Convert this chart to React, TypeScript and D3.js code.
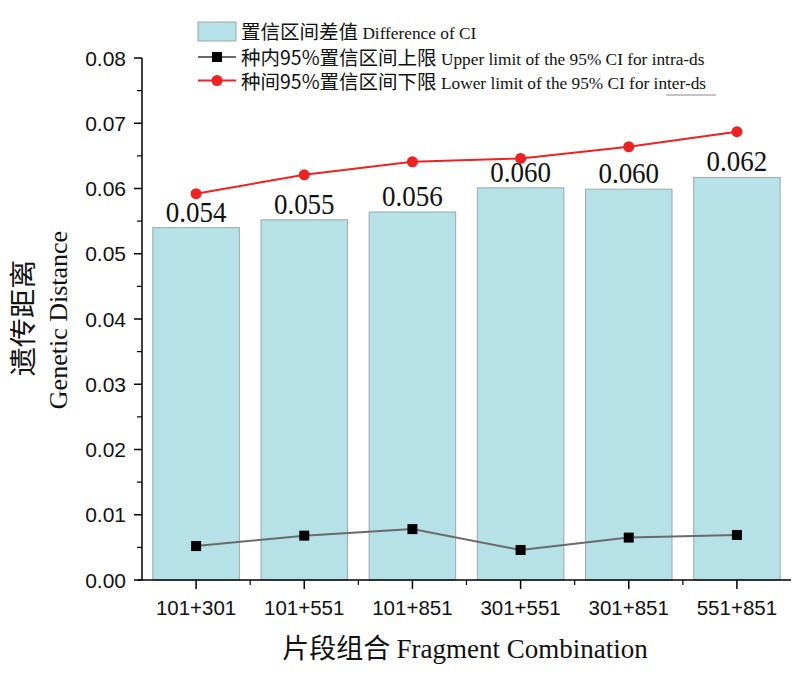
import React from "react";
import * as d3 from "d3";

const categories = ["101+301", "101+551", "101+851", "301+551", "301+851", "551+851"];
const ciDiff = [0.0540, 0.0552, 0.0564, 0.0601, 0.0599, 0.0617];
const ciDiffLabels = ["0.054", "0.055", "0.056", "0.060", "0.060", "0.062"];
const intraUpper = [0.0052, 0.0068, 0.0078, 0.0046, 0.0065, 0.0069];
const interLower = [0.0592, 0.0621, 0.0641, 0.0646, 0.0664, 0.0687];
const yTicks = [0, 0.01, 0.02, 0.03, 0.04, 0.05, 0.06, 0.07, 0.08];

const W = 800, H = 674;
const left = 142, right = 791, top = 58, bottom = 580;
const SANS = "'Liberation Sans', Arial, sans-serif";
const SERIF = "'Liberation Serif', 'Times New Roman', serif";
const CJK = "'Noto Sans CJK SC', sans-serif";

export default function App() {
  const x = d3.scaleBand<string>().domain(categories).range([left, right]).paddingInner(0.2).paddingOuter(0.1);
  const y = d3.scaleLinear().domain([0, 0.08]).range([bottom, top]);
  const minorY = d3.range(0.005, 0.08, 0.01);
  const cx = (c: string) => (x(c) as number) + x.bandwidth() / 2;
  const step = x.step();
  const lineGen = d3.line<number>().x((_, i) => cx(categories[i])).y((d) => y(d));

  return (
    <svg width={W} height={H} style={{ position: "absolute", left: 0, top: 0, background: "#fff" }}>
      {/* bars */}
      {categories.map((c, i) => (
        <rect key={c} x={x(c)} y={y(ciDiff[i])} width={x.bandwidth()} height={bottom - y(ciDiff[i])}
          fill="#b5e1e7" stroke="#9aa8aa" strokeWidth={1} />
      ))}
      {/* bar labels */}
      {categories.map((c, i) => (
        <text key={c} transform={`translate(${cx(c)},${y(ciDiff[i]) - 6}) scale(1,1.1)`} textAnchor="middle"
          fontFamily={SERIF} fontSize={27} fill="#111">
          {ciDiffLabels[i]}
        </text>
      ))}
      {/* intra line */}
      <path d={lineGen(intraUpper) as string} fill="none" stroke="#6a6a6a" strokeWidth={2} />
      {intraUpper.map((v, i) => (
        <rect key={i} x={cx(categories[i]) - 5} y={y(v) - 5} width={10} height={10} fill="#000" />
      ))}
      {/* inter line */}
      <path d={lineGen(interLower) as string} fill="none" stroke="#ee2222" strokeWidth={2} />
      {interLower.map((v, i) => (
        <circle key={i} cx={cx(categories[i])} cy={y(v)} r={5.5} fill="#ee2222" />
      ))}
      {/* y axis */}
      <line x1={left} x2={left} y1={top} y2={bottom} stroke="#000" strokeWidth={1.5} />
      {yTicks.map((t) => (
        <g key={t}>
          <line x1={left - 8} x2={left} y1={y(t)} y2={y(t)} stroke="#000" strokeWidth={1.5} />
          <text x={left - 16} y={y(t) + 7.5} textAnchor="end" fontFamily={SANS} fontSize={21} fill="#111">
            {t.toFixed(2)}
          </text>
        </g>
      ))}
      {minorY.map((t) => (
        <line key={t} x1={left - 5} x2={left} y1={y(t)} y2={y(t)} stroke="#000" strokeWidth={1.2} />
      ))}
      {/* x axis */}
      <line x1={left - 4} x2={right} y1={bottom} y2={bottom} stroke="#000" strokeWidth={1.5} />
      {categories.map((c) => (
        <g key={c}>
          <line x1={cx(c)} x2={cx(c)} y1={bottom} y2={bottom + 9} stroke="#000" strokeWidth={1.5} />
          <text x={cx(c)} y={bottom + 35} textAnchor="middle" fontFamily={SANS} fontSize={20.5} fill="#111">{c}</text>
        </g>
      ))}
      {categories.slice(1).map((c) => (
        <line key={c} x1={(x(c) as number) - (step - x.bandwidth()) / 2} x2={(x(c) as number) - (step - x.bandwidth()) / 2}
          y1={bottom} y2={bottom + 5} stroke="#000" strokeWidth={1.2} />
      ))}
      {/* axis titles */}
      <text x={465} y={658} textAnchor="middle" fill="#111">
        <tspan fontFamily={CJK} fontSize={27}>片段组合 </tspan>
        <tspan fontFamily={SERIF} fontSize={27}>Fragment Combination</tspan>
      </text>
      <text transform="translate(33,318) rotate(-90) scale(1.08,1)" textAnchor="middle" fontFamily={CJK} fontSize={27} fill="#111">遗传距离</text>
      <text transform="translate(67,320) rotate(-90)" textAnchor="middle" fontFamily={SERIF} fontSize={26} fill="#111">Genetic Distance</text>
      {/* legend */}
      <rect x={198} y={22} width={38} height={19} fill="#b5e1e7" stroke="#9aa8aa" />
      <text x={241} y={38.5} fill="#111">
        <tspan fontFamily={CJK} fontSize={19.5}>置信区间差值 </tspan>
        <tspan fontFamily={SERIF} fontSize={17.3}>Difference of CI</tspan>
      </text>
      <line x1={198} x2={236} y1={57} y2={57} stroke="#6a6a6a" strokeWidth={2} />
      <rect x={212} y={52} width={10} height={10} fill="#000" />
      <text x={241} y={64.5} fill="#111">
        <tspan fontFamily={CJK} fontSize={19.5}>种内95%置信区间上限 </tspan>
        <tspan fontFamily={SERIF} fontSize={17.3}>Upper limit of the 95% CI for intra-ds</tspan>
      </text>
      <line x1={198} x2={236} y1={80.5} y2={80.5} stroke="#ee2222" strokeWidth={2} />
      <circle cx={217} cy={80.5} r={5.5} fill="#ee2222" />
      <text x={241} y={88.5} fill="#111">
        <tspan fontFamily={CJK} fontSize={19.5}>种间95%置信区间下限 </tspan>
        <tspan fontFamily={SERIF} fontSize={17.3}>Lower limit of the 95% CI for inter-ds</tspan>
      </text>
      <line x1={666} x2={716} y1={95} y2={95} stroke="#888" strokeWidth={1} />
    </svg>
  );
}
